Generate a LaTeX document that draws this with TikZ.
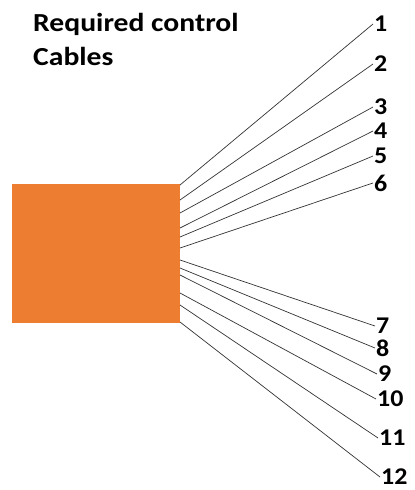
\documentclass[tikz,border=0pt]{standalone}
\usepackage{fontspec}
\setmainfont[FakeStretch=1.08]{Carlito}
\newfontfamily\headfont[FakeStretch=1.14]{Carlito}
\usetikzlibrary{positioning,calc}

\definecolor{boxorange}{HTML}{ED7D31}

\begin{document}
\begin{tikzpicture}[
      x=1pt, y=-1pt,
      font=\fontsize{24}{28}\selectfont\bfseries,
      box/.style={fill=boxorange, minimum width=168pt, minimum height=139pt, inner sep=0pt},
      num/.style={anchor=west, inner sep=1pt},
      head/.style={anchor=base west, inner sep=0pt, font=\headfont\fontsize{26}{30}\selectfont\bfseries},
      cable/.style={black!80, line width=0.7pt},
    ]
    \useasboundingbox (0,0) rectangle (415,490);
    \node[head] (t1) at (33,31) {Required control};
    \node[head] (t2) at (33,65) {Cables};
    \node[box] (box) at (96,253.5) {};
    % cable ends on the box
    \coordinate (s1) at (180,185);
    \coordinate (s2) at (180,200);
    \coordinate (s3) at (180,213);
    \coordinate (s4) at (180,228);
    \coordinate (s5) at (180,237);
    \coordinate (s6) at (180,248);
    \coordinate (s7) at (180,260);
    \coordinate (s8) at (180,268);
    \coordinate (s9) at (180,275);
    \coordinate (s10) at (180,293);
    \coordinate (s11) at (180,305);
    \coordinate (s12) at (180,322);
    % numbers
    \node[num] (n1) at (373,24) {1};
    \node[num] (n2) at (373,64) {2};
    \node[num] (n3) at (373,107) {3};
    \node[num] (n4) at (373,131) {4};
    \node[num] (n5) at (373,156) {5};
    \node[num] (n6) at (373,183) {6};
    \node[num] (n7) at (375,326) {7};
    \node[num] (n8) at (375,348) {8};
    \node[num] (n9) at (377,374) {9};
    \node[num] (n10) at (376,399) {10};
    \node[num] (n11) at (378,438) {11};
    \node[num] (n12) at (380,477) {12};
    \draw[cable] (s1) -- (n1.west);
    \draw[cable] (s2) -- (n2.west);
    \draw[cable] (s3) -- (n3.west);
    \draw[cable] (s4) -- (n4.west);
    \draw[cable] (s5) -- (n5.west);
    \draw[cable] (s6) -- (n6.west);
    \draw[cable] (s7) -- (n7.west);
    \draw[cable] (s8) -- (n8.west);
    \draw[cable] (s9) -- (n9.west);
    \draw[cable] (s10) -- (n10.west);
    \draw[cable] (s11) -- (n11.west);
    \draw[cable] (s12) -- (n12.west);
  \end{tikzpicture}
\end{document}
